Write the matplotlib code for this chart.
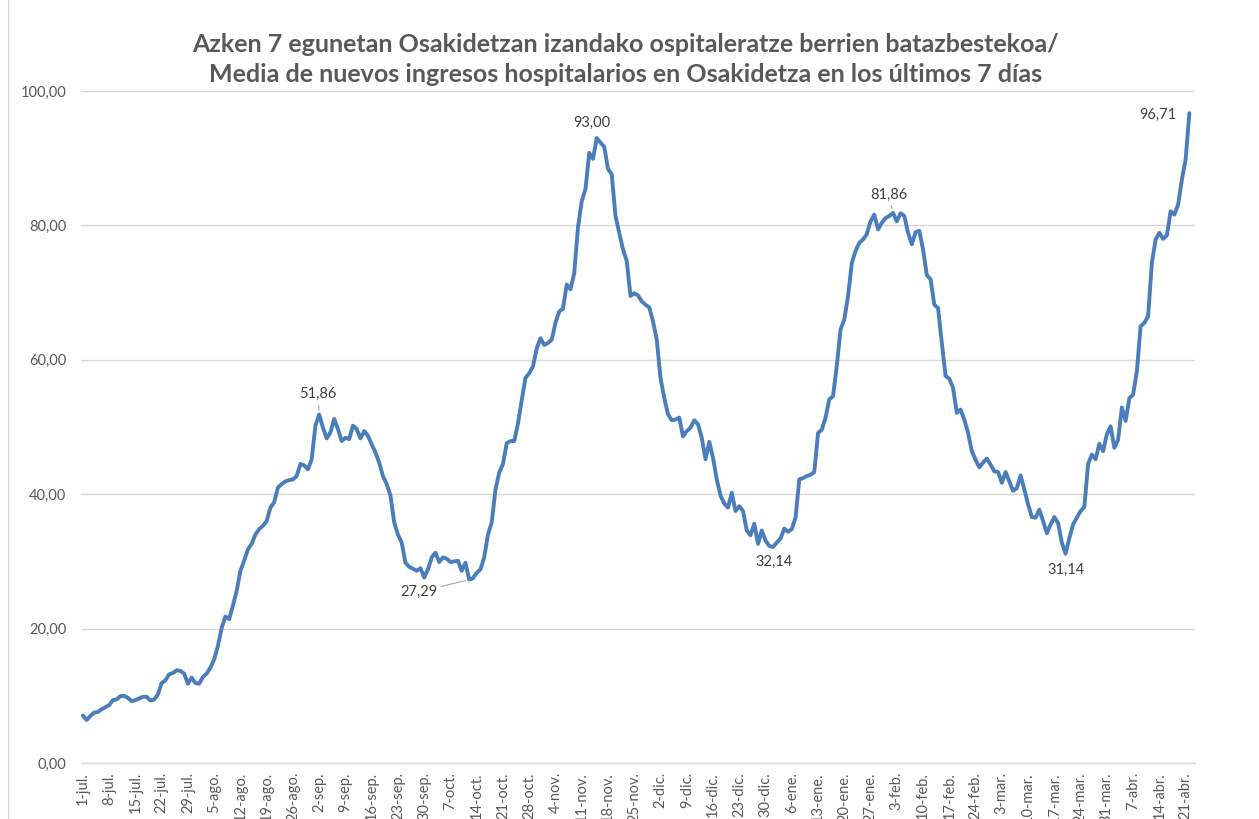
import numpy as np
import matplotlib
matplotlib.use("Agg")
import matplotlib.pyplot as plt
from matplotlib.lines import Line2D

plt.rcParams['font.family'] = ['Lato', 'DejaVu Sans']

# 7-day mean of new hospital admissions, one value per day from 1-jul (2020) to 22-abr (2021)
ingresos = [
    7.06, 6.4, 7.0, 7.5, 7.6, 8.0, 8.3, 8.6, 9.35, 9.45,
    9.95, 10.0, 9.7, 9.2, 9.35, 9.6, 9.85, 9.85, 9.3, 9.45,
    10.2, 11.9, 12.3, 13.2, 13.4, 13.8, 13.7, 13.3, 11.8, 12.7,
    11.9, 11.8, 12.8, 13.3, 14.2, 15.4, 17.4, 20.1, 21.8, 21.4,
    23.4, 25.6, 28.6, 30.1, 31.8, 32.6, 34.0, 34.8, 35.3, 36.0,
    38.0, 38.8, 41.0, 41.5, 41.9, 42.1, 42.2, 42.7, 44.5, 44.3,
    43.7, 45.2, 50.2, 51.86, 49.9, 48.3, 49.2, 51.2, 49.7, 47.9,
    48.4, 48.2, 50.2, 49.7, 48.3, 49.4, 48.7, 47.4, 46.2, 44.7,
    42.7, 41.5, 39.8, 35.8, 34.0, 32.8, 29.8, 29.2, 28.9, 28.6,
    29.0, 27.6, 28.8, 30.6, 31.3, 29.9, 30.6, 30.4, 29.9, 30.0,
    30.1, 28.6, 29.8, 27.29, 27.5, 28.3, 28.8, 30.6, 34.0, 35.8,
    40.7, 43.2, 44.5, 47.6, 47.9, 47.9, 50.5, 54.0, 57.3, 58.0,
    59.0, 61.7, 63.2, 62.2, 62.5, 63.0, 65.5, 67.2, 67.6, 71.2,
    70.5, 72.9, 79.7, 83.6, 85.4, 90.8, 89.9, 93.0, 92.3, 91.7,
    88.4, 87.6, 81.4, 78.9, 76.4, 74.7, 69.5, 69.9, 69.6, 68.7,
    68.2, 67.8, 65.7, 63.0, 57.3, 54.3, 51.9, 51.0, 51.1, 51.4,
    48.6, 49.4, 49.9, 51.0, 50.4, 48.4, 45.2, 47.8, 45.4, 42.2,
    39.8, 38.6, 38.0, 40.2, 37.5, 38.2, 37.5, 34.6, 33.9, 35.6,
    32.6, 34.6, 33.1, 32.3, 32.14, 32.8, 33.4, 34.9, 34.4, 34.8,
    36.5, 42.2, 42.4, 42.7, 42.9, 43.3, 49.1, 49.6, 51.4, 54.1,
    54.6, 59.1, 64.5, 66.0, 69.5, 74.4, 76.2, 77.4, 77.9, 78.7,
    80.6, 81.6, 79.4, 80.4, 81.1, 81.4, 81.86, 80.6, 81.8, 81.4,
    78.9, 77.2, 79.0, 79.2, 76.4, 72.6, 72.0, 68.2, 67.7, 62.5,
    57.6, 57.2, 55.8, 52.1, 52.6, 51.1, 49.1, 46.4, 45.1, 44.0,
    44.7, 45.3, 44.4, 43.4, 43.3, 41.7, 43.3, 41.9, 40.5, 40.9,
    42.8, 40.7, 38.5, 36.6, 36.5, 37.7, 36.0, 34.2, 35.5, 36.6,
    35.7, 32.8, 31.14, 33.5, 35.5, 36.5, 37.5, 38.1, 44.5, 45.9,
    45.2, 47.5, 46.4, 48.9, 50.1, 46.9, 48.1, 52.9, 50.9, 54.3,
    54.8, 58.3, 65.0, 65.5, 66.5, 74.4, 77.9, 78.9, 78.0, 78.5,
    82.1, 81.6, 83.1, 86.8, 89.8, 96.71,
]

# every 7th day gets a label
fechas = [
    "1-jul.", "8-jul.", "15-jul.", "22-jul.", "29-jul.", "5-ago.", "12-ago.",
    "19-ago.", "26-ago.", "2-sep.", "9-sep.", "16-sep.", "23-sep.", "30-sep.",
    "7-oct.", "14-oct.", "21-oct.", "28-oct.", "4-nov.", "11-nov.", "18-nov.",
    "25-nov.", "2-dic.", "9-dic.", "16-dic.", "23-dic.", "30-dic.", "6-ene.",
    "13-ene.", "20-ene.", "27-ene.", "3-feb.", "10-feb.", "17-feb.", "24-feb.",
    "3-mar.", "10-mar.", "17-mar.", "24-mar.", "31-mar.", "7-abr.", "14-abr.",
    "21-abr.",
]
yticks = [0, 20, 40, 60, 80, 100]

# days that carry a value label (peaks and troughs)
etiquetados = [63, 103, 137, 184, 216, 262, 295]

titulo1 = "Azken 7 egunetan Osakidetzan izandako ospitaleratze berrien batazbestekoa/"
titulo2 = "Media de nuevos ingresos hospitalarios en Osakidetza en los últimos 7 días"

W, H = 1259, 819
fig = plt.figure(figsize=(W / 100, H / 100), dpi=100)
ax = fig.add_axes([81 / W, (H - 763) / H, (1195 - 81) / W, (763 - 91) / H])

dias = np.arange(len(ingresos))
ax.plot(dias, ingresos, color='#4A7EBB', lw=2.8, solid_joinstyle='round',
        solid_capstyle='round', zorder=3)

ax.set_xlim(-0.5, 296.5)
ax.set_ylim(0, 100)
ax.set_yticks(yticks)
ax.set_yticklabels([f"{v},00" for v in yticks])
ax.set_xticks(np.arange(0, 7 * len(fechas), 7))
ax.set_xticklabels(fechas, rotation=90)

ax.grid(axis='y', color='#D9D9D9', lw=1)
ax.set_axisbelow(True)
for s in ['top', 'right', 'left']:
    ax.spines[s].set_visible(False)
ax.spines['bottom'].set_color('#D9D9D9')
ax.spines['bottom'].set_linewidth(1)
ax.tick_params(axis='both', length=0, colors='#595959', labelsize=10.5)
ax.tick_params(axis='x', pad=6.5)
ax.tick_params(axis='y', pad=10.5)

# label offsets in points (dx, dy) and whether a leader line is drawn
offsets = {
    63: (-0.7, 14.5, True),
    103: (-36.5, -9.0, True),
    137: (-3.5, 10.8, False),
    184: (0.7, -11.0, False),
    216: (-3.0, 13.3, True),
    262: (0.0, -11.5, False),
    295: (-22.5, -1.5, False),
}
for i in etiquetados:
    v = ingresos[i]
    dx, dy, leader = offsets[i]
    props = None
    if leader:
        props = dict(arrowstyle='-', color='#A6A6A6', lw=0.8, shrinkA=1, shrinkB=3)
    ax.annotate(f"{v:.2f}".replace('.', ','), xy=(i, v), xytext=(dx, dy),
                textcoords='offset points', ha='center', va='center',
                fontsize=10.5, color='#404040', arrowprops=props, zorder=4)

fig.text(626 / W, 1 - 45 / H, titulo1, ha='center', va='center',
         fontsize=18, fontweight='bold', color='#595959')
fig.text(626 / W, 1 - 74 / H, titulo2, ha='center', va='center',
         fontsize=18, fontweight='bold', color='#595959')

# chart-area border on the left
fig.add_artist(Line2D([8 / W, 8 / W], [0, 1], color='#D9D9D9', lw=1))

fig.savefig("out.png", dpi=100)
